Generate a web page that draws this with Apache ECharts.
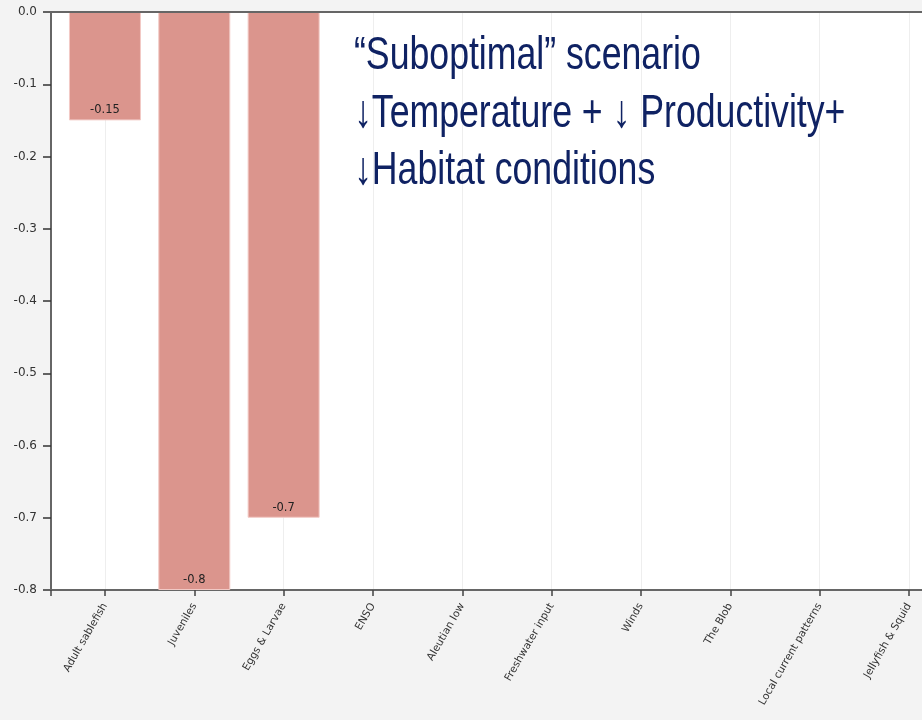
<!DOCTYPE html>
<html>
<head>
<meta charset="utf-8">
<script src="https://cdn.jsdelivr.net/npm/echarts@6/dist/echarts.min.js"></script>
<style>
html,body{margin:0;padding:0;background:#f3f3f3;}
#chart{width:922px;height:720px;}
</style>
</head>
<body>
<div id="chart"></div>
<script>
const categories = ["Adult sablefish","Juveniles","Eggs & Larvae","ENSO","Aleutian low","Freshwater input","Winds","The Blob","Local current patterns","Jellyfish & Squid"];
const values = [-0.15, -0.8, -0.7, null, null, null, null, null, null, null];
const yTicks = [0, -0.1, -0.2, -0.3, -0.4, -0.5, -0.6, -0.7, -0.8];
const noteLines = ["\u201CSuboptimal\u201D scenario", "\u2193Temperature + \u2193 Productivity+", "\u2193Habitat conditions"];

const chart = echarts.init(document.getElementById('chart'), null, {renderer:'canvas'});
const fontFam = "'DejaVu Sans', Verdana, sans-serif";
const noteFont = "46px 'Liberation Sans', Arial, sans-serif";
chart.setOption({
  backgroundColor: '#f3f3f3',
  animation: false,
  grid: {left: 60.3, width: 893.3, top: 12, bottom: 130, containLabel: false, outerBoundsMode: 'none'},
  xAxis: {
    type: 'category',
    data: categories,
    boundaryGap: true,
    axisLine: {show: true, onZero: false, lineStyle: {color: '#666', width: 2}},
    axisTick: {show: true, alignWithLabel: true, length: 6, lineStyle: {color: '#444', width: 1.5}},
    splitLine: {show: true, alignWithLabel: true, lineStyle: {color: '#eeeeee', width: 1}},
    axisLabel: {rotate: 60, fontSize: 10.5, color: '#333', fontFamily: fontFam, margin: 14, interval: 0}
  },
  yAxis: {
    type: 'value',
    min: yTicks[yTicks.length - 1], max: yTicks[0], interval: 0.1,
    offset: 9.3,
    axisLine: {show: true, lineStyle: {color: '#666', width: 2}},
    axisTick: {show: true, length: 8, lineStyle: {color: '#333', width: 1.5}},
    splitLine: {show: false},
    axisLabel: {fontSize: 12, color: '#333', fontFamily: fontFam, margin: 14,
      formatter: v => (Math.abs(v) < 1e-9 ? '0.0' : v.toFixed(1))}
  },
  graphic: [
    {type: 'rect', z: -10, silent: true, shape: {x: 51, y: 12, width: 871, height: 578}, style: {fill: '#ffffff'}},
    {type: 'line', z: 10, silent: true, shape: {x1: 50, y1: 12, x2: 922, y2: 12}, style: {stroke: '#666', lineWidth: 2}},
    {type: 'line', z: 10, silent: true, shape: {x1: 50, y1: 590, x2: 62, y2: 590}, style: {stroke: '#666', lineWidth: 2}},
    {type: 'line', z: 10, silent: true, shape: {x1: 51, y1: 590, x2: 51, y2: 596}, style: {stroke: '#444', lineWidth: 1.5}},
    {type: 'text', z: 20, silent: true, x: 354, y: 79, scaleX: 0.775,
      style: {text: noteLines[0], font: noteFont, fill: '#0f2263', verticalAlign: 'bottom'}},
    {type: 'text', z: 20, silent: true, x: 354, y: 137, scaleX: 0.775,
      style: {text: noteLines[1], font: noteFont, fill: '#0f2263', verticalAlign: 'bottom'}},
    {type: 'text', z: 20, silent: true, x: 354, y: 194, scaleX: 0.775,
      style: {text: noteLines[2], font: noteFont, fill: '#0f2263', verticalAlign: 'bottom'}}
  ],
  series: [{
    type: 'bar',
    data: values,
    barWidth: 72,
    itemStyle: {color: '#db958d', borderColor: '#f2c9c5', borderWidth: 1},
    label: {show: true, position: 'insideBottom', distance: 4, fontSize: 11.5, color: '#222', fontFamily: fontFam,
      formatter: p => String(p.value)}
  }]
});
</script>
</body>
</html>
